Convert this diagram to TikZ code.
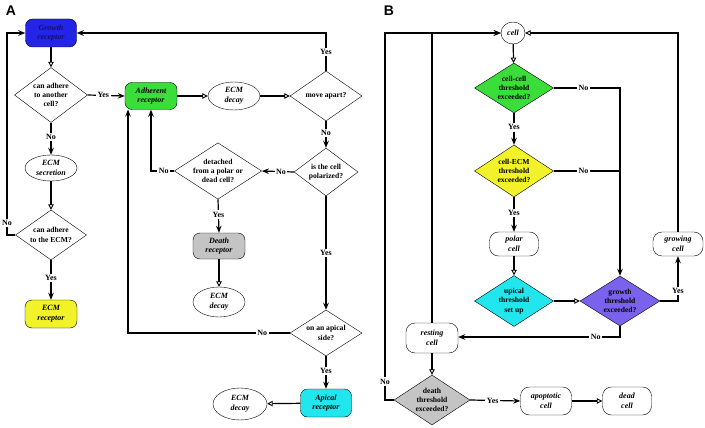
\documentclass[tikz,border=0pt]{standalone}
\usepackage{fontspec}
\setmainfont{Liberation Serif}
\newfontfamily\panelfont{Liberation Sans}
\usetikzlibrary{shapes.geometric,arrows.meta}
\definecolor{gblue}{HTML}{2424E6}
\definecolor{gnavy}{HTML}{101070}
\definecolor{ggreen}{HTML}{3ADD3A}
\definecolor{gyellow}{HTML}{F2F22A}
\definecolor{gcyan}{HTML}{22E6EE}
\definecolor{gpurple}{HTML}{7A62EC}
\definecolor{ggray}{HTML}{C4C4C4}
\tikzset{
  every node/.style={font=\fontsize{8}{9.5}\selectfont},
  box/.style={draw, rounded corners=7pt, align=center, minimum width=52pt, minimum height=27pt, inner sep=1pt, font=\fontsize{8}{9.8}\selectfont\bfseries\itshape},
  oval/.style={draw, ellipse, align=center, minimum width=52pt, minimum height=28pt, inner sep=0pt, font=\fontsize{8}{9.8}\selectfont\bfseries\itshape},
  dec/.style={draw, diamond, shape aspect=1.55, align=center, inner sep=0pt, minimum width=78pt, minimum height=50pt, font=\fontsize{7.6}{9.4}\selectfont\bfseries},
  lab/.style={fill=white, inner sep=1.5pt, font=\fontsize{8}{9}\selectfont\bfseries},
  fa/.style={line width=1.2pt, -{Stealth[length=7pt,width=5.5pt]}},
  ha/.style={line width=1.2pt, -{Triangle[open,length=5.5pt,width=5.5pt,line width=0.9pt]}},
  ln/.style={line width=1.2pt},
}
\begin{document}
\begin{tikzpicture}[x=1pt,y=-1pt]
\useasboundingbox (0,0) rectangle (705,428);
% panel labels
\node[font=\panelfont\fontsize{14}{14}\selectfont\bfseries] (labA) at (11,11) {A};
\node[font=\panelfont\fontsize{14}{14}\selectfont\bfseries] (labB) at (389,11) {B};

% ---------------- Panel A ----------------
\node[box, fill=gblue, text=gnavy, minimum width=51pt, minimum height=28pt] (gr) at (51,33) {Growth\\receptor};
\node[dec, minimum width=71pt, minimum height=55pt] (d1) at (51,95) {can adhere\\to another\\cell?};
\node[oval, minimum height=26pt] (es) at (51,168) {ECM\\secretion};
\node[dec, minimum width=71pt, minimum height=50pt] (d2) at (51,235) {can adhere\\to the ECM?};
\node[box, fill=gyellow, minimum height=28pt] (er) at (51,314) {ECM\\receptor};

\node[box, fill=ggreen] (ad) at (151,96) {Adherent\\receptor};
\node[oval] (dc1) at (234,96) {ECM\\decay};
\node[dec, minimum width=72pt, minimum height=50pt] (ma) at (326,96) {move apart?};
\node[dec, minimum width=64pt, minimum height=48pt] (po) at (326,172) {is the cell\\polarized?};
\node[dec, minimum width=85pt, minimum height=52pt] (de) at (218,171) {detached\\from a polar or\\dead cell?};
\node[box, fill=ggray, minimum height=26pt] (dr) at (219,246) {Death\\receptor};
\node[oval, minimum height=30pt] (dc2) at (219,302) {ECM\\decay};
\node[dec, minimum width=72pt, minimum height=46pt] (ap) at (326,333) {on an apical\\side?};
\node[box, fill=gcyan, minimum width=51pt, minimum height=28pt] (ar) at (326,403) {Apical\\receptor};
\node[oval, minimum width=54pt, minimum height=32pt] (dc3) at (240,404) {ECM\\decay};

\coordinate (c1) at (7,235);
\coordinate (c2) at (7,33);
\coordinate (c3) at (326,33);
\coordinate (c4) at (151,171);
\coordinate (c5) at (128,333);
\coordinate (c6) at (128,109.5);

\draw[ha] (gr) -- (d1);
\draw[fa] (d1.east) -- node[lab, pos=0.42]{Yes} (ad.west);
\draw[fa] (d1.south) -- node[lab, pos=0.45]{No} (es.north);
\draw[ha] (es) -- (d2);
\draw[fa] (d2.south) -- node[lab, pos=0.45]{Yes} (er.north);
\draw[fa] (d2.west) -- (c1) -- node[lab, pos=0.06]{No} (c2) -- (gr.west);
\draw[ha] (ad) -- (dc1);
\draw[ha] (dc1) -- (ma);
\draw[fa] (ma.north) -- node[lab, pos=0.5]{Yes} (c3) -- (gr.east);
\draw[fa] (ma.south) -- node[lab, pos=0.45]{No} (po.north);
\draw[fa] (po.west) -- node[lab, pos=0.4]{No} (de.east);
\draw[fa] (de.west) -- node[lab, pos=0.45]{No} (c4) -- (ad.south);
\draw[fa] (de.south) -- node[lab, pos=0.45]{Yes} (dr.north);
\draw[ha] (dr) -- (dc2);
\draw[fa] (po.south) -- node[lab, pos=0.5]{Yes} (ap.north);
\draw[fa] (ap.west) -- node[lab, pos=0.17]{No} (c5) -- (c6);
\draw[fa] (ap.south) -- node[lab, pos=0.45]{Yes} (ar.north);
\draw[ha] (ar) -- (dc3);

% ---------------- Panel B ----------------
\node[draw, ellipse, minimum width=24pt, minimum height=22pt, inner sep=0pt, font=\fontsize{8}{9}\selectfont\bfseries\itshape] (cell) at (513,33) {cell};
\node[dec, fill=ggreen, minimum width=79pt, minimum height=50pt] (cc) at (514,88) {cell-cell\\threshold\\exceeded?};
\node[dec, fill=gyellow, minimum width=79pt, minimum height=52pt] (ce) at (514,171) {cell-ECM\\threshold\\exceeded?};
\node[box, rounded corners=9pt, minimum width=49pt, minimum height=24pt] (pc) at (514,244) {polar\\cell};
\node[dec, fill=gcyan, minimum width=79pt, minimum height=51pt] (at) at (514,301) {upical\\threshold\\set up};
\node[dec, fill=gpurple, minimum width=80pt, minimum height=50pt] (gt) at (620,301) {growth\\threshold\\exceeded?};
\node[box, rounded corners=9pt, minimum width=50pt, minimum height=24pt] (gc) at (678,244) {growing\\cell};
\node[box, rounded corners=9pt, minimum width=52pt, minimum height=30pt] (rc) at (432,338) {resting\\cell};
\node[dec, fill=ggray, minimum width=76pt, minimum height=50pt] (dt) at (432,400) {death\\threshold\\exceeded?};
\node[box, rounded corners=9pt, minimum width=51pt, minimum height=28pt] (apo) at (546,401) {apoptotic\\cell};
\node[box, rounded corners=9pt, minimum width=49pt, minimum height=28pt] (dead) at (627,401) {dead\\cell};

\coordinate (b1) at (620,88);
\coordinate (b2) at (620,171);
\coordinate (b3) at (678,301);
\coordinate (b4) at (678,33);
\coordinate (b5) at (620,337);
\coordinate (b6) at (432,33);
\coordinate (b7) at (385,400);
\coordinate (b8) at (385,33);

\draw[ha] (cell) -- (cc);
\draw[fa] (cc.east) -- node[lab, pos=0.45]{No} (b1) -- (gt.north);
\draw[fa] (cc.south) -- node[lab, pos=0.45]{Yes} (ce.north);
\draw[ln] (ce.east) -- node[lab, pos=0.45]{No} (b2);
\draw[fa] (ce.south) -- node[lab, pos=0.45]{Yes} (pc.north);
\draw[ha] (pc) -- (at);
\draw[ha] (at) -- (gt);
\draw[fa] (gt.east) -- (b3) -- node[lab, pos=0.22]{Yes} (gc.south);
\draw[ha] (gc.north) -- (b4) -- (cell.east);
\draw[fa] (gt.south) -- (b5) -- node[lab, pos=0.15]{No} (rc.east |- b5);
\draw[fa] (rc.north) -- (b6) -- (cell.west);
\draw[ha] (rc) -- (dt);
\draw[fa] (dt.west) -- (b7) -- node[lab, pos=0.05]{No} (b8) -- (cell.west);
\draw[fa] (dt.east) -- node[lab, pos=0.45]{Yes} (apo.west);
\draw[ha] (apo) -- (dead);
\end{tikzpicture}
\end{document}
